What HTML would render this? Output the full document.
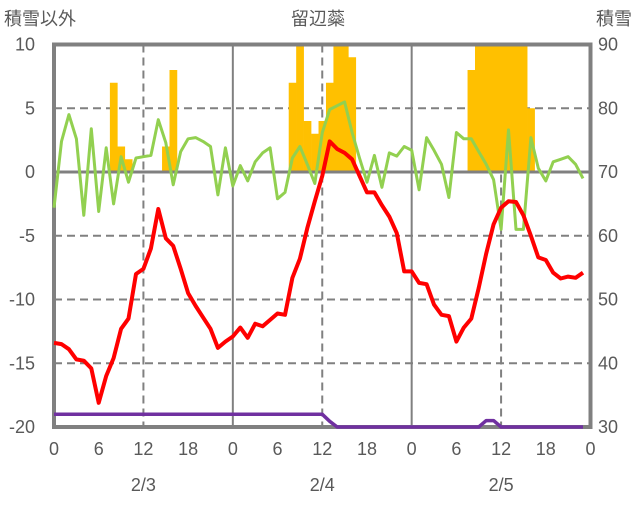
<!DOCTYPE html>
<html><head><meta charset="utf-8"><style>
html,body{margin:0;padding:0;background:#fff;}
svg text{font-family:"Liberation Sans","Noto Sans CJK JP",sans-serif;fill:#595959;font-size:18px;}
</style></head><body>
<svg id="chart" width="636" height="501" viewBox="0 0 636 501" xmlns="http://www.w3.org/2000/svg">
<defs><clipPath id="plotclip"><rect x="54" y="44.5" width="536.5" height="382.5"/></clipPath></defs>
<g id="grid"></g>
<g id="bars" clip-path="url(#plotclip)"></g>
<g id="zero"></g>
<g id="frame"></g>
<g id="lines"></g>
<g id="labels"></g>
<text x="318" y="25" text-anchor="middle">留辺蘂</text>
<text x="4" y="25">積雪以外</text>
<text x="632" y="25" text-anchor="end">積雪</text>
</svg>
<script>
const hourTicks = ["0","6","12","18","0","6","12","18","0","6","12","18","0"];
const dayLabels = ["2/3","2/4","2/5"];
const leftTicks = [10,5,0,-5,-10,-15,-20];
const rightTicks = [90,80,70,60,50,40,30];
const snowHours = [8,9,10,15,16,32,33,34,35,36,37,38,39,40,56,57,58,59,60,61,62,63,64];
const snowValues = [7,2,1,2,8,7,12,4,3,4,7,12,12,9,8,12,12,12,12,12,12,12,5];
const greenValues = [-2.8,2.4,4.5,2.6,-3.4,3.4,-3.1,1.9,-2.5,1.2,-0.8,1.1,1.2,1.3,4.1,2.3,-1.0,1.6,2.6,2.7,2.4,2.0,-1.8,1.9,
-1.1,0.5,-0.7,0.8,1.5,1.9,-2.1,-1.6,1.1,2.0,0.6,-0.9,3.1,4.9,5.2,5.5,3.1,1.1,-0.8,1.3,-1.2,1.5,1.25,2.0,
1.7,-1.4,2.7,1.7,0.6,-2.0,3.1,2.6,2.6,1.6,0.6,-0.6,-4.5,3.3,-4.5,-4.5,2.7,0.3,-0.7,0.8,1.0,1.2,0.6,-0.5];
const redValues = [-13.4,-13.5,-13.9,-14.7,-14.8,-15.4,-18.1,-16.0,-14.6,-12.3,-11.5,-8.0,-7.6,-6.0,-2.9,-5.2,-5.8,-7.6,-9.5,-10.5,-11.4,-12.3,-13.8,-13.3,
-12.9,-12.2,-13.0,-11.9,-12.1,-11.6,-11.1,-11.2,-8.3,-6.8,-4.4,-2.3,-0.3,2.4,1.8,1.5,1.0,-0.3,-1.6,-1.6,-2.6,-3.5,-4.8,-7.8,
-7.8,-8.7,-8.8,-10.4,-11.2,-11.3,-13.3,-12.2,-11.5,-9.1,-6.4,-4.1,-2.8,-2.3,-2.35,-3.4,-5.0,-6.7,-6.9,-7.9,-8.35,-8.2,-8.3,-7.9];
const purpleValues = [-19,-19,-19,-19,-19,-19,-19,-19,-19,-19,-19,-19,-19,-19,-19,-19,-19,-19,-19,-19,-19,-19,-19,-19,
-19,-19,-19,-19,-19,-19,-19,-19,-19,-19,-19,-19,-19,-19.55,-20,-20,-20,-20,-20,-20,-20,-20,-20,-20,
-20,-20,-20,-20,-20,-20,-20,-20,-20,-20,-19.5,-19.5,-20,-20,-20,-20,-20,-20,-20,-20,-20,-20,-20,-20];

const X0=54, X1=590.5, YT=44.5, YB=427;
const xs = h => X0 + (X1-X0)*h/72;
const ys = v => YT + (YB-YT)*(10-v)/30;
const NS="http://www.w3.org/2000/svg";
function mk(tag, parent, attrs){const e=document.createElementNS(NS,tag);for(const k in attrs)e.setAttribute(k,attrs[k]);parent.appendChild(e);return e;}
const grid=document.getElementById('grid');
[5,-5,-10,-15].forEach(v=>{
  const l=mk('line',grid,{x1:X0,x2:X1,y1:ys(v),y2:ys(v),stroke:'#808080','stroke-width':2,'stroke-dasharray':'8,5'});
  
  
});
[24,48].forEach(h=>{
  const l=mk('line',grid,{x1:xs(h),x2:xs(h),y1:YT,y2:YB,stroke:'#808080','stroke-width':2});
  
  
});
[12,36,60].forEach(h=>{
  const l=mk('line',grid,{x1:xs(h),x2:xs(h),y1:YT,y2:YB,stroke:'#808080','stroke-width':2,'stroke-dasharray':'8,5'});
  
  
});
const bars=document.getElementById('bars');
const bw=(X1-X0)/72;
snowHours.forEach((h,i)=>{
  const v=snowValues[i];
  const r=mk('rect',bars,{x:xs(h)-bw/2,y:ys(v),width:bw+0.3,height:ys(0)-ys(v),fill:'#FFC000'});
  
  
});
const zl=mk('line',document.getElementById('zero'),{x1:X0,x2:X1,y1:ys(0),y2:ys(0),stroke:'#808080','stroke-width':3});


const fr=mk('rect',document.getElementById('frame'),{x:X0,y:YT,width:X1-X0,height:YB-YT,fill:'none',stroke:'#808080','stroke-width':4});


const lines=document.getElementById('lines');
function series(vals,color,w,name){
  const d=vals.map((v,i)=>(i?'L':'M')+xs(i).toFixed(1)+','+ys(v).toFixed(1)).join(' ');
  const p=mk('path',lines,{d:d,fill:'none',stroke:color,'stroke-width':w,'stroke-linejoin':'round'});
  
  
}
series(purpleValues,'#7030A0',3.5,'purple-series');
series(greenValues,'#92D050',3,'green-series');
series(redValues,'#FF0000',4,'red-series');
const lab=document.getElementById('labels');
leftTicks.forEach(v=>{
  const t=mk('text',lab,{x:35,y:ys(v)+6,'text-anchor':'end'});t.textContent=v;
  
  
});
rightTicks.forEach((v,i)=>{
  const t=mk('text',lab,{x:598,y:ys(leftTicks[i])+6});t.textContent=v;
  
  
});
hourTicks.forEach((s,i)=>{
  const t=mk('text',lab,{x:xs(i*6),y:455,'text-anchor':'middle'});t.textContent=s;
  
  
});
dayLabels.forEach((s,i)=>{
  const t=mk('text',lab,{x:xs(12+24*i),y:491,'text-anchor':'middle'});t.textContent=s;
  
  
});
</script>
</body></html>
